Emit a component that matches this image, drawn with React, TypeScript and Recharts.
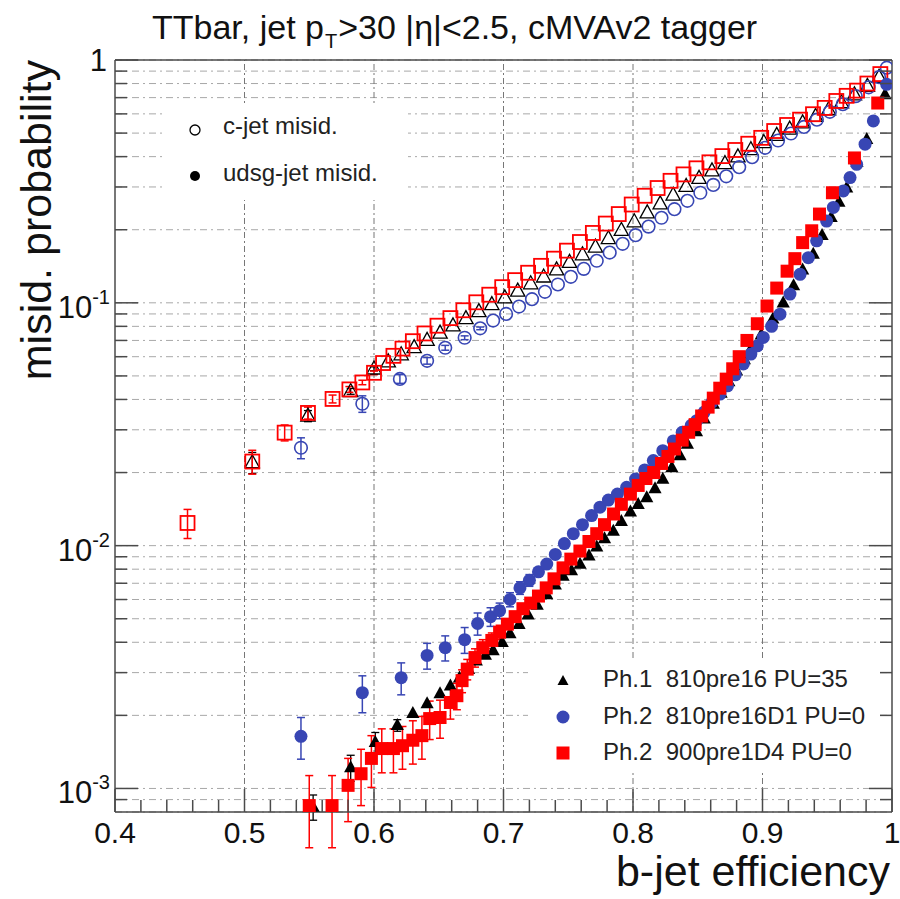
import React from 'react';
import { ScatterChart, Scatter, XAxis, YAxis, CartesianGrid, ReferenceLine, ErrorBar } from 'recharts';

const FONT = '"Liberation Sans", Arial, Helvetica, sans-serif';

// ---------- axis ticks ----------
const xTicks = [0.4, 0.42, 0.44, 0.46, 0.48, 0.5, 0.52, 0.54, 0.56, 0.58, 0.6, 0.62, 0.64, 0.66, 0.68, 0.7,
  0.72, 0.74, 0.76, 0.78, 0.8, 0.82, 0.84, 0.86, 0.88, 0.9, 0.92, 0.94, 0.96, 0.98, 1.0];
const xMajor = [0.4, 0.5, 0.6, 0.7, 0.8, 0.9, 1.0];
const xGridLines = [0.5, 0.6, 0.7, 0.8, 0.9];
const yTicks = [0.0009, 0.001, 0.002, 0.003, 0.004, 0.005, 0.006, 0.007, 0.008, 0.009, 0.01,
  0.02, 0.03, 0.04, 0.05, 0.06, 0.07, 0.08, 0.09, 0.1, 0.2, 0.3, 0.4, 0.5, 0.6, 0.7, 0.8, 0.9, 1];
const yMajor = [0.001, 0.01, 0.1, 1];
const yMajorLabels: [string, string][] = [['10', '-3'], ['10', '-2'], ['10', '-1'], ['1', '']];

// ---------- data: [b-jet efficiency, misid probability, error] ----------
type Pt = [number, number, number?];

const cjetPh1: Pt[] = [
  [0.506, 0.0220, 0.0022], [0.549, 0.0342, 0.0018], [0.582, 0.0432, 0.0012], [0.600, 0.0535, 0.001],
  [0.611, 0.0572], [0.621, 0.0612], [0.631, 0.0655], [0.641, 0.0702], [0.651, 0.0752], [0.661, 0.0805],
  [0.671, 0.0862], [0.681, 0.0922], [0.691, 0.0985], [0.701, 0.105], [0.711, 0.112], [0.721, 0.120],
  [0.731, 0.128], [0.741, 0.137], [0.751, 0.147], [0.761, 0.158], [0.771, 0.170], [0.781, 0.184],
  [0.791, 0.199], [0.801, 0.216], [0.811, 0.235], [0.821, 0.256], [0.831, 0.278], [0.841, 0.302],
  [0.851, 0.326], [0.861, 0.35], [0.871, 0.375], [0.881, 0.40], [0.891, 0.428], [0.901, 0.458],
  [0.911, 0.49], [0.921, 0.52], [0.931, 0.552], [0.941, 0.587], [0.951, 0.625], [0.961, 0.668],
  [0.971, 0.72], [0.981, 0.78], [0.99, 0.85],
];

const cjetPh2D1: Pt[] = [
  [0.5436, 0.0253, 0.0025], [0.591, 0.0384, 0.003], [0.620, 0.0486, 0.002], [0.641, 0.0577, 0.0018],
  [0.655, 0.0653, 0.0015], [0.670, 0.0718, 0.0013], [0.682, 0.0785, 0.001], [0.692, 0.0845],
  [0.702, 0.0900], [0.712, 0.0965], [0.722, 0.1035], [0.732, 0.111], [0.742, 0.119], [0.752, 0.128],
  [0.762, 0.138], [0.772, 0.149], [0.782, 0.161], [0.792, 0.175], [0.802, 0.190], [0.812, 0.206],
  [0.822, 0.224], [0.832, 0.243], [0.842, 0.263], [0.852, 0.284], [0.862, 0.306], [0.872, 0.332],
  [0.882, 0.362], [0.892, 0.398], [0.902, 0.435], [0.912, 0.466], [0.922, 0.498], [0.932, 0.53],
  [0.942, 0.568], [0.952, 0.612], [0.962, 0.658], [0.972, 0.71], [0.982, 0.772], [0.990, 0.85],
  [0.996, 0.93],
];

const cjetPh2D4: Pt[] = [
  [0.456, 0.0124, 0.0017], [0.506, 0.0222, 0.0025], [0.531, 0.0292, 0.0022], [0.549, 0.0352, 0.002],
  [0.568, 0.0402, 0.0015], [0.581, 0.0440, 0.0012], [0.591, 0.0470, 0.001], [0.600, 0.0515, 0.0009],
  [0.607, 0.0565], [0.615, 0.0605], [0.622, 0.0648], [0.630, 0.0695], [0.639, 0.0748], [0.649, 0.0805],
  [0.659, 0.0865], [0.669, 0.0932], [0.679, 0.1005], [0.689, 0.108], [0.699, 0.116], [0.709, 0.124],
  [0.719, 0.133], [0.729, 0.142], [0.739, 0.152], [0.749, 0.164], [0.759, 0.178], [0.769, 0.194],
  [0.779, 0.212], [0.789, 0.232], [0.799, 0.254], [0.809, 0.276], [0.819, 0.297], [0.829, 0.318],
  [0.839, 0.338], [0.849, 0.358], [0.859, 0.379], [0.869, 0.402], [0.879, 0.426], [0.889, 0.452],
  [0.899, 0.478], [0.909, 0.51], [0.919, 0.54], [0.929, 0.568], [0.939, 0.598], [0.948, 0.635],
  [0.957, 0.678], [0.965, 0.712], [0.973, 0.748], [0.981, 0.80], [0.991, 0.875],
];

const udsgPh1: Pt[] = [
  [0.553, 0.00084, 0.0001], [0.582, 0.00122, 0.00015], [0.601, 0.00155, 0.00015], [0.618, 0.00182, 0.0001],
  [0.630, 0.00204], [0.641, 0.00224], [0.651, 0.00246], [0.659, 0.00265], [0.666, 0.00286], [0.673, 0.0031],
  [0.679, 0.00336], [0.686, 0.00355], [0.692, 0.0037], [0.699, 0.0040], [0.705, 0.00435], [0.712, 0.00475],
  [0.719, 0.0052], [0.726, 0.0057], [0.7334, 0.0063], [0.740, 0.0069], [0.746, 0.0075], [0.7525, 0.0079],
  [0.7591, 0.0084], [0.766, 0.0091], [0.772, 0.0099], [0.778, 0.0107], [0.7848, 0.0115], [0.791, 0.0126],
  [0.798, 0.0138], [0.804, 0.0148], [0.8106, 0.0158], [0.817, 0.0172], [0.823, 0.0188], [0.830, 0.0210],
  [0.8363, 0.0235], [0.842, 0.0262], [0.849, 0.0295], [0.855, 0.0333], [0.862, 0.0383], [0.868, 0.0425],
  [0.874, 0.0475], [0.880, 0.0525], [0.886, 0.0585], [0.892, 0.066], [0.899, 0.074], [0.908, 0.086],
  [0.916, 0.100], [0.924, 0.118], [0.931, 0.137], [0.9392, 0.159], [0.946, 0.19], [0.953, 0.225],
  [0.959, 0.26], [0.965, 0.298], [0.973, 0.38], [0.9805, 0.472], [0.9946, 0.722],
];

const udsgPh2D1: Pt[] = [
  [0.5436, 0.00164, 0.00032], [0.591, 0.00248, 0.00043], [0.621, 0.00286, 0.00043], [0.641, 0.00353, 0.00043],
  [0.655, 0.0038, 0.00045], [0.670, 0.0041, 0.0005], [0.680, 0.00478, 0.0005], [0.690, 0.0051, 0.00045],
  [0.697, 0.0054, 0.0004], [0.705, 0.0060, 0.0004], [0.7127, 0.0067, 0.0004], [0.720, 0.0072, 0.0004],
  [0.727, 0.0078], [0.7334, 0.0084], [0.740, 0.0092], [0.747, 0.0102], [0.7539, 0.0112], [0.761, 0.0122],
  [0.768, 0.0133], [0.7745, 0.0144], [0.781, 0.0154], [0.788, 0.0163], [0.7951, 0.0174], [0.802, 0.0188],
  [0.809, 0.0205], [0.8157, 0.0224], [0.823, 0.0246], [0.8311, 0.0270], [0.838, 0.0293], [0.845, 0.0313],
  [0.8492, 0.0327], [0.855, 0.0355], [0.861, 0.0390], [0.8672, 0.0421], [0.873, 0.0455], [0.879, 0.0505],
  [0.8852, 0.056], [0.891, 0.0615], [0.896, 0.0665], [0.9006, 0.072], [0.907, 0.080], [0.9135, 0.0898],
  [0.9212, 0.1086], [0.929, 0.131], [0.9354, 0.1535], [0.9418, 0.180], [0.9495, 0.217], [0.9547, 0.247],
  [0.9624, 0.289], [0.9676, 0.328], [0.9727, 0.372], [0.9792, 0.450], [0.9856, 0.561], [0.9959, 0.794],
];

const udsgPh2D4: Pt[] = [
  [0.550, 0.00085, 0.00028], [0.5676, 0.00085, 0.00028], [0.580, 0.00103, 0.0003], [0.590, 0.00115, 0.0003],
  [0.598, 0.00133, 0.00032], [0.606, 0.00146, 0.0003], [0.615, 0.00146, 0.0003], [0.622, 0.0015, 0.0003],
  [0.630, 0.00158, 0.00032], [0.637, 0.00165, 0.00033], [0.643, 0.00194, 0.00035], [0.651, 0.00196, 0.00035],
  [0.659, 0.00226, 0.00033], [0.664, 0.00241, 0.0003], [0.668, 0.00278, 0.0003], [0.672, 0.0031, 0.0003],
  [0.678, 0.00346, 0.0003], [0.684, 0.0038, 0.0003], [0.691, 0.00407, 0.0003], [0.697, 0.0044, 0.0003],
  [0.703, 0.00475], [0.709, 0.0051], [0.715, 0.0055], [0.721, 0.0058], [0.727, 0.0062], [0.733, 0.0067],
  [0.739, 0.0073], [0.746, 0.0081], [0.752, 0.0088], [0.759, 0.0095], [0.766, 0.0104], [0.772, 0.0112],
  [0.778, 0.0122], [0.785, 0.0135], [0.791, 0.0148], [0.798, 0.0163], [0.804, 0.0177], [0.810, 0.0189],
  [0.816, 0.0200], [0.822, 0.0218], [0.827, 0.0233], [0.832, 0.0250], [0.838, 0.0272], [0.843, 0.0293],
  [0.848, 0.0315], [0.853, 0.0342], [0.858, 0.0372], [0.862, 0.0405], [0.867, 0.0445], [0.872, 0.0485],
  [0.877, 0.0535], [0.882, 0.060], [0.888, 0.070], [0.896, 0.082], [0.9035, 0.097], [0.911, 0.115],
  [0.919, 0.135], [0.925, 0.152], [0.931, 0.177], [0.938, 0.198], [0.944, 0.232], [0.954, 0.284],
  [0.971, 0.395], [0.989, 0.665],
];

const rows = (arr: Pt[]) => arr.map(([x, y, e]) => ({ x, y, e }));

const RED = '#ff0000';
const BLUE = '#3846b4';
const BLACK = '#000000';
const AXIS = '#4a4a4a';

const near = (a: number, list: number[]) => list.some((v) => Math.abs(v - a) < 1e-9);

// ---------- ticks ----------
const BottomTick = (p: any) => {
  const v = p.payload.value;
  const major = near(v, xMajor);
  const len = major ? 23 : 12;
  return (
    <g>
      <line x1={p.x} y1={p.y} x2={p.x} y2={p.y - len} stroke={AXIS} strokeWidth={1.5} />
      {major && (
        <text x={p.x} y={p.y + 31} textAnchor="middle" fontFamily={FONT} fontSize={30} fill="#111">
          {v === 1 ? '1' : v.toFixed(1)}
        </text>
      )}
    </g>
  );
};
const TopTick = (p: any) => {
  const major = near(p.payload.value, xMajor);
  const len = major ? 23 : 12;
  return <line x1={p.x} y1={p.y} x2={p.x} y2={p.y + len} stroke={AXIS} strokeWidth={1.5} />;
};
const LeftTick = (p: any) => {
  const v = p.payload.value;
  const idx = yMajor.findIndex((m) => Math.abs(m - v) < 1e-12);
  const major = idx >= 0;
  const len = major ? 23 : 12;
  const lab = major ? yMajorLabels[idx] : null;
  return (
    <g>
      <line x1={p.x} y1={p.y} x2={p.x + len} y2={p.y} stroke={AXIS} strokeWidth={1.5} />
      {lab && lab[1] === '' && (
        <text x={p.x - 8} y={p.y + 11} textAnchor="end" fontFamily={FONT} fontSize={31} fill="#111">{lab[0]}</text>
      )}
      {lab && lab[1] !== '' && (
        <text x={p.x - 5} y={p.y + 15} textAnchor="end" fontFamily={FONT} fill="#111">
          <tspan fontSize={31}>{lab[0]}</tspan>
          <tspan fontSize={20} dy={-14}>{lab[1]}</tspan>
        </text>
      )}
    </g>
  );
};
const RightTick = (p: any) => {
  const major = yMajor.some((m) => Math.abs(m - p.payload.value) < 1e-12);
  const len = major ? 23 : 12;
  return <line x1={p.x} y1={p.y} x2={p.x - len} y2={p.y} stroke={AXIS} strokeWidth={1.5} />;
};

// ---------- markers ----------
const triPts = (cx: number, cy: number, s: number) =>
  `${cx},${cy - s * 0.6} ${cx - s * 0.55},${cy + s * 0.4} ${cx + s * 0.55},${cy + s * 0.4}`;
const OpenTri = (p: any) => <polygon points={triPts(p.cx, p.cy, 13)} fill="none" stroke={BLACK} strokeWidth={1.3} />;
const FullTri = (p: any) => <polygon points={triPts(p.cx, p.cy, 12)} fill={BLACK} />;
const OpenCirc = (p: any) => <circle cx={p.cx} cy={p.cy} r={6.3} fill="none" stroke={BLUE} strokeWidth={1.6} />;
const FullCirc = (p: any) => <circle cx={p.cx} cy={p.cy} r={6.5} fill={BLUE} />;
const OpenSq = (p: any) => (
  <rect x={p.cx - 7} y={p.cy - 7} width={14} height={14} fill="none" stroke={RED} strokeWidth={1.8} />
);
const FullSq = (p: any) => <rect x={p.cx - 6.5} y={p.cy - 6.5} width={13} height={13} fill={RED} />;

const axisLine = { stroke: AXIS, strokeWidth: 1.5 };

export default function App() {
  return (
    <div style={{ position: 'absolute', left: 0, top: 0, width: 900, height: 899, background: '#fff' }}>
      <ScatterChart width={900} height={899} margin={{ top: 59, right: 7, bottom: 47, left: 55 }}>
        <CartesianGrid vertical={false} stroke="#a8a8a8" strokeDasharray="7 4 2 4" />
        {xGridLines.map((v) => (
          <ReferenceLine key={v} x={v} stroke="#777" strokeDasharray="6 3 2 3" />
        ))}
        <XAxis dataKey="x" type="number" domain={[0.4, 1]} ticks={xTicks} interval={0} allowDataOverflow
          tickSize={0} tickMargin={0} tickLine={false} axisLine={axisLine} tick={BottomTick} height={40} />
        <XAxis xAxisId="top" orientation="top" type="number" domain={[0.4, 1]} ticks={xTicks} interval={0}
          allowDataOverflow tickSize={0} tickMargin={0} tickLine={false} axisLine={axisLine} tick={TopTick} height={1} />
        <YAxis dataKey="y" type="number" scale="log" domain={[0.0008, 1]} ticks={yTicks} interval={0}
          allowDataOverflow tickSize={0} tickMargin={0} tickLine={false} axisLine={axisLine} tick={LeftTick} width={60} />
        <YAxis yAxisId="right" orientation="right" type="number" scale="log" domain={[0.0008, 1]} ticks={yTicks}
          interval={0} allowDataOverflow tickSize={0} tickMargin={0} tickLine={false} axisLine={axisLine}
          tick={RightTick} width={1} />

        <Scatter name="c-jet Ph.1" data={rows(cjetPh1)} shape={OpenTri} isAnimationActive={false}>
          <ErrorBar dataKey="e" direction="y" width={4} stroke={BLACK} strokeWidth={1.3} />
        </Scatter>
        <Scatter name="c-jet Ph.2 D1" data={rows(cjetPh2D1)} shape={OpenCirc} isAnimationActive={false}>
          <ErrorBar dataKey="e" direction="y" width={4} stroke={BLUE} strokeWidth={1.5} />
        </Scatter>
        <Scatter name="c-jet Ph.2 D4" data={rows(cjetPh2D4)} shape={OpenSq} isAnimationActive={false}>
          <ErrorBar dataKey="e" direction="y" width={4} stroke={RED} strokeWidth={1.5} />
        </Scatter>
        <Scatter name="udsg Ph.1" data={rows(udsgPh1)} shape={FullTri} isAnimationActive={false}>
          <ErrorBar dataKey="e" direction="y" width={4} stroke={BLACK} strokeWidth={1.3} />
        </Scatter>
        <Scatter name="udsg Ph.2 D1" data={rows(udsgPh2D1)} shape={FullCirc} isAnimationActive={false}>
          <ErrorBar dataKey="e" direction="y" width={4} stroke={BLUE} strokeWidth={1.5} />
        </Scatter>
        <Scatter name="udsg Ph.2 D4" data={rows(udsgPh2D4)} shape={FullSq} isAnimationActive={false}>
          <ErrorBar dataKey="e" direction="y" width={4} stroke={RED} strokeWidth={1.5} />
        </Scatter>
      </ScatterChart>

      <svg width={900} height={899} style={{ position: 'absolute', left: 0, top: 0, pointerEvents: 'none' }}>
        <text x={152} y={39} fontFamily={FONT} fontSize={34} fill="#111">
          <tspan>TTbar, jet p</tspan>
          <tspan fontSize={20} dx={1} dy={9}>T</tspan>
          <tspan dx={1} dy={-9}>&gt;30 |η|&lt;2.5, cMVAv2 tagger</tspan>
        </text>
        <text transform="translate(51,60) rotate(-90)" textAnchor="end" fontFamily={FONT} fontSize={43} fill="#111">
          misid. probability
        </text>
        <text x={890} y={886} textAnchor="end" fontFamily={FONT} fontSize={43} fill="#111">b-jet efficiency</text>

        {/* legend 1 */}
        <rect x={163} y={103} width={245} height={97} fill="#fff" />
        <circle cx={195} cy={130} r={5} fill="none" stroke={BLACK} strokeWidth={1.3} />
        <text x={223} y={134} fontFamily={FONT} fontSize={24} fill="#222">c-jet misid.</text>
        <circle cx={195} cy={176} r={5} fill={BLACK} />
        <text x={223} y={181} fontFamily={FONT} fontSize={24} fill="#222">udsg-jet misid.</text>

        {/* legend 2 */}
        <rect x={528} y={658} width={348} height={114} fill="#fff" />
        <polygon points={triPts(563, 681, 10)} fill={BLACK} />
        <text x={603} y={687} fontFamily={FONT} fontSize={24} fill="#222" style={{ whiteSpace: 'pre' }}>Ph.1  810pre16 PU=35</text>
        <circle cx={563} cy={717} r={6.5} fill={BLUE} />
        <text x={603} y={724} fontFamily={FONT} fontSize={24} fill="#222" style={{ whiteSpace: 'pre' }}>Ph.2  810pre16D1 PU=0</text>
        <rect x={556.5} y={746.5} width={13} height={13} fill={RED} />
        <text x={603} y={760} fontFamily={FONT} fontSize={24} fill="#222" style={{ whiteSpace: 'pre' }}>Ph.2  900pre1D4 PU=0</text>
      </svg>
    </div>
  );
}
